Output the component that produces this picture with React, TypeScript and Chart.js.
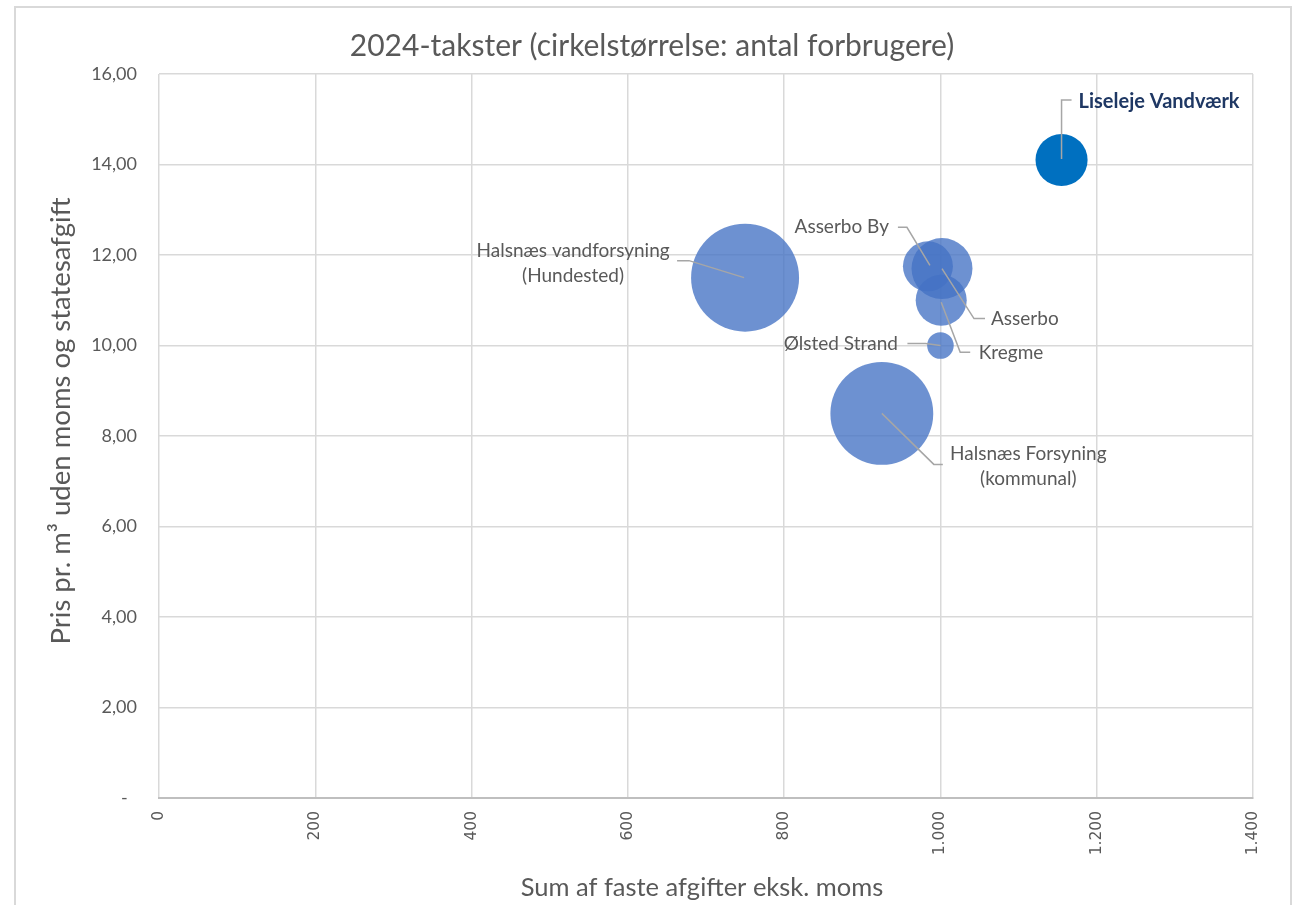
import { useEffect, useRef } from "react";
import { Chart, registerables } from "chart.js";

Chart.register(...registerables);

// ---------- data ----------
const names = [
  "Halsnæs vandforsyning (Hundested)",
  "Halsnæs Forsyning (kommunal)",
  "Asserbo",
  "Asserbo By",
  "Kregme",
  "Ølsted Strand",
  "Liseleje Vandværk",
];
const labelLines = [
  ["Halsnæs vandforsyning", "(Hundested)"],
  ["Halsnæs Forsyning", "(kommunal)"],
  ["Asserbo"],
  ["Asserbo By"],
  ["Kregme"],
  ["Ølsted Strand"],
  ["Liseleje Vandværk"],
];
const fixedFees = [750, 925, 1002, 984, 1001, 1000, 1155];
const pricePerM3 = [11.5, 8.5, 11.7, 11.75, 11.0, 10.0, 14.1];
const consumers = [4300, 3900, 1370, 920, 960, 260, 1000];

const xTickLabels = ["0", "200", "400", "600", "800", "1.000", "1.200", "1.400"];
const yTickLabels = ["-  ", "2,00", "4,00", "6,00", "8,00", "10,00", "12,00", "14,00", "16,00"];

const chartTitle = "2024-takster (cirkelstørrelse: antal forbrugere)";
const xTitle = "Sum af faste afgifter eksk. moms";
const yTitle = "Pris pr. m³ uden moms og statesafgift";

// ---------- styling / layout ----------
const R_MAX = 54;
const maxConsumers = Math.max(...consumers);
const GRAY = "#595959";
const FONT = "Lato, 'Open Sans', sans-serif";

const LABEL_LAYOUT = [
  { dx: -172, dy: -14.5, align: "center", path: [[-1, 0], [-56, -17], [-68, -17]] },
  { dx: 146.5, dy: 53, align: "center", path: [[0, 0], [52, 51], [61, 51]] },
  { dx: 49, dy: 50, align: "left", path: [[0, 0], [32, 50], [43, 50]] },
  { dx: -39, dy: -39, align: "right", path: [[2, -1], [-21, -39], [-30, -39]] },
  { dx: 37.5, dy: 53, align: "left", path: [[0, 2], [19, 52], [29, 52]] },
  { dx: -42.5, dy: -2, align: "right", path: [[0, 0], [-15, -2], [-33, -2]] },
  { dx: 17, dy: -58.5, align: "left", path: [[0, -1], [0, -60], [10, -60]] },
];

const framePlugin = {
  id: "frame",
  beforeDraw(chart: any) {
    const ctx = chart.ctx;
    ctx.save();
    ctx.fillStyle = "#ffffff";
    ctx.fillRect(0, 0, chart.width, chart.height);
    ctx.strokeStyle = "#D9D9D9";
    ctx.lineWidth = 2;
    ctx.strokeRect(15, 7, 1276, 1000);
    ctx.restore();
  },
};

const titlesPlugin = {
  id: "titles",
  afterDraw(chart: any) {
    const ctx = chart.ctx;
    ctx.save();
    ctx.fillStyle = GRAY;
    ctx.textAlign = "center";
    ctx.textBaseline = "middle";
    ctx.font = `30px ${FONT}`;
    ctx.fillText(chartTitle, 652, 46);
    ctx.font = `25.5px ${FONT}`;
    ctx.fillText(xTitle, 702, 888);
    ctx.translate(61, 421);
    ctx.rotate(-Math.PI / 2);
    ctx.font = `27.5px ${FONT}`;
    ctx.fillText(yTitle, 0, 0);
    ctx.restore();
  },
};

const labelsPlugin = {
  id: "bubbleLabels",
  afterDatasetsDraw(chart: any) {
    const ctx = chart.ctx;
    const meta = chart.getDatasetMeta(0);
    ctx.save();
    meta.data.forEach((el: any, i: number) => {
      const lay = LABEL_LAYOUT[i];
      const cx = el.x;
      const cy = el.y;
      ctx.strokeStyle = "#A6A6A6";
      ctx.lineWidth = 1.5;
      ctx.beginPath();
      lay.path.forEach((p, k) => {
        if (k === 0) ctx.moveTo(cx + p[0], cy + p[1]);
        else ctx.lineTo(cx + p[0], cy + p[1]);
      });
      ctx.stroke();
      const isMain = i === names.length - 1;
      ctx.font = isMain ? `bold 20px ${FONT}` : `19px ${FONT}`;
      ctx.fillStyle = isMain ? "#1F3864" : GRAY;
      ctx.textAlign = lay.align as CanvasTextAlign;
      ctx.textBaseline = "middle";
      const lines = labelLines[i];
      const lh = 25;
      const y0 = cy + lay.dy - ((lines.length - 1) * lh) / 2;
      lines.forEach((t, k) => ctx.fillText(t, cx + lay.dx, y0 + k * lh));
    });
    ctx.restore();
  },
};

export default function App() {
  const ref = useRef<HTMLCanvasElement | null>(null);

  useEffect(() => {
    if (!ref.current) return;
    const colors = names.map((_, i) =>
      i === names.length - 1 ? "#0070C0" : "rgba(68,114,196,0.78)"
    );
    const chart = new Chart(ref.current, {
      type: "bubble",
      data: {
        datasets: [
          {
            label: "Vandværker",
            data: names.map((_, i) => ({
              x: fixedFees[i],
              y: pricePerM3[i],
              r: R_MAX * Math.sqrt(consumers[i] / maxConsumers),
            })),
            backgroundColor: colors,
            borderColor: colors,
            borderWidth: 0,
          },
        ],
      },
      options: {
        animation: false,
        responsive: true,
        maintainAspectRatio: false,
        layout: { autoPadding: false, padding: { top: 74, right: 43, left: 0, bottom: 0 } },
        plugins: {
          legend: { display: false },
          tooltip: { enabled: false },
          title: { display: false },
        },
        scales: {
          x: {
            type: "linear",
            min: 0,
            max: 1400,
            afterFit: (s: any) => {
              s.height = 107;
              s.paddingLeft = 0;
              s.paddingRight = 0;
            },
            ticks: {
              stepSize: 200,
              maxRotation: 90,
              minRotation: 90,
              padding: 13,
              color: GRAY,
              font: { family: "'DejaVu Sans', sans-serif", size: 15.5 },
              callback: (_v: any, i: number) => xTickLabels[i],
            },
            grid: { color: "#D9D9D9", lineWidth: 1.5, drawTicks: false },
            border: { color: "#BFBFBF", width: 2 },
          },
          y: {
            type: "linear",
            min: 0,
            max: 16,
            afterFit: (s: any) => {
              s.width = 159;
              s.paddingTop = 0;
              s.paddingBottom = 0;
            },
            ticks: {
              stepSize: 2,
              padding: 22,
              color: GRAY,
              font: { family: FONT, size: 18 },
              callback: (_v: any, i: number) => yTickLabels[i],
            },
            grid: { color: "#D9D9D9", lineWidth: 1.5, drawTicks: false },
            border: { display: false },
          },
        },
      },
      plugins: [framePlugin, titlesPlugin, labelsPlugin],
    });
    return () => chart.destroy();
  }, []);

  return (
    <div style={{ position: "fixed", left: 0, top: 0, width: 1296, height: 905, background: "#fff" }}>
      <canvas ref={ref} />
    </div>
  );
}
